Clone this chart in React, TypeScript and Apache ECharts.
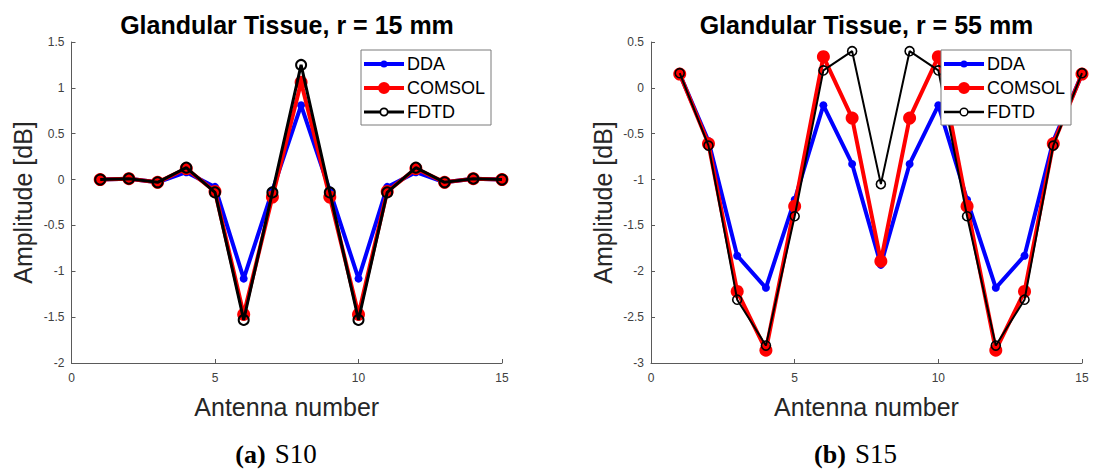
import React, { useEffect, useRef } from "react";
import * as echarts from "echarts";

const antennas = [1, 2, 3, 4, 5, 6, 7, 8, 9, 10, 11, 12, 13, 14, 15];
const seriesNames = ["DDA", "COMSOL", "FDTD"];

const s10DDA = [0, 0.01, -0.03, 0.08, -0.08, -1.08, -0.12, 0.81, -0.12, -1.08, -0.08, 0.08, -0.03, 0.01, 0];
const s10COMSOL = [0, 0.01, -0.03, 0.12, -0.13, -1.47, -0.19, 1.06, -0.19, -1.47, -0.13, 0.12, -0.03, 0.01, 0];
const s10FDTD = [0, 0.01, -0.03, 0.13, -0.14, -1.53, -0.14, 1.25, -0.14, -1.53, -0.14, 0.13, -0.03, 0.01, 0];

const s15DDA = [0.15, -0.58, -1.83, -2.18, -1.22, -0.19, -0.83, -1.93, -0.83, -0.19, -1.22, -2.18, -1.83, -0.58, 0.15];
const s15COMSOL = [0.15, -0.61, -2.22, -2.86, -1.29, 0.34, -0.33, -1.89, -0.33, 0.34, -1.29, -2.86, -2.22, -0.61, 0.15];
const s15FDTD = [0.16, -0.63, -2.31, -2.81, -1.4, 0.19, 0.4, -1.05, 0.4, 0.19, -1.4, -2.81, -2.31, -0.63, 0.16];

const titles = ["Glandular Tissue, r = 15 mm", "Glandular Tissue, r = 55 mm"];
const captionTags = ["(a)", "(b)"];
const captionNames = ["S10", "S15"];
const xName = "Antenna number";
const yName = "Amplitude [dB]";

const FONT = "'Liberation Sans', Arial, sans-serif";
const SERIF = "'Liberation Serif', 'Times New Roman', serif";
const AXIS_COLOR = "#5a5a5a";
const LABEL_COLOR = "#404040";

const pairs = (ys: number[]) => ys.map((y, i) => [antennas[i], y]);

// legend icon paths in a 40 x 14 box (corner specks pin the bounding box)
const BOX = "M0 0 L0.01 0 L0 0.01 Z M40 14 L39.99 14 L40 13.99 Z ";
const circle = (cx: number, cy: number, r: number, cw: boolean) =>
  `M${cx - r} ${cy} A${r} ${r} 0 1 ${cw ? 1 : 0} ${cx + r} ${cy} A${r} ${r} 0 1 ${cw ? 1 : 0} ${cx - r} ${cy} Z `;
const bar = (x0: number, x1: number, w: number) =>
  `M${x0} ${7 - w / 2} L${x1} ${7 - w / 2} L${x1} ${7 + w / 2} L${x0} ${7 + w / 2} Z `;
const filledIcon = (lw: number, r: number) => "path://" + BOX + bar(0, 40, lw) + circle(20, 7, r, true);
const hollowIcon = (lw: number, r: number, rin: number) =>
  "path://" + BOX + bar(0, 20 - rin, lw) + bar(20 + rin, 40, lw) + circle(20, 7, r, true) + circle(20, 7, rin, false);

export default function App() {
  const ref = useRef<HTMLDivElement>(null);
  useEffect(() => {
    if (!ref.current) return;
    const chart = echarts.init(ref.current, undefined, { renderer: "svg" });

    const grids = [
      { left: 71.5, top: 42, width: 430.5, height: 321 },
      { left: 651, top: 42, width: 431, height: 321 },
    ];
    const yRanges = [
      { min: -2, max: 1.5 },
      { min: -3, max: 0.5 },
    ];
    const data = [
      [s10DDA, s10COMSOL, s10FDTD],
      [s15DDA, s15COMSOL, s15FDTD],
    ];
    const fdtdWidth = [3, 2];
    const fdtdSymbol = [10, 9];
    const fdtdBorder = [2, 1.6];

    const xAxes = grids.map((_, i) => ({
      type: "value",
      gridIndex: i,
      min: 0,
      max: 15,
      interval: 5,
      name: xName,
      nameLocation: "middle",
      nameGap: 31,
      nameTextStyle: { fontFamily: FONT, fontSize: 25, color: "#262626" },
      axisLine: { show: true, onZero: false, lineStyle: { color: AXIS_COLOR, width: 1 } },
      axisTick: { show: true, inside: true, length: 4, lineStyle: { color: AXIS_COLOR } },
      axisLabel: { fontFamily: FONT, fontSize: 12, color: LABEL_COLOR, margin: 9 },
      splitLine: { show: false },
    }));
    const yAxes = grids.map((_, i) => ({
      type: "value",
      gridIndex: i,
      min: yRanges[i].min,
      max: yRanges[i].max,
      interval: 0.5,
      name: yName,
      nameLocation: "middle",
      nameGap: 36,
      nameTextStyle: { fontFamily: FONT, fontSize: 25, color: "#262626" },
      axisLine: { show: true, onZero: false, lineStyle: { color: AXIS_COLOR, width: 1 } },
      axisTick: { show: true, inside: true, length: 4, lineStyle: { color: AXIS_COLOR } },
      axisLabel: { fontFamily: FONT, fontSize: 12, color: LABEL_COLOR, margin: 7 },
      splitLine: { show: false },
    }));

    const series: any[] = [];
    grids.forEach((_, i) => {
      series.push({
        name: seriesNames[0],
        type: "line",
        xAxisIndex: i,
        yAxisIndex: i,
        data: pairs(data[i][0]),
        symbol: "circle",
        symbolSize: 8,
        color: "#0000ff",
        lineStyle: { width: 4, color: "#0000ff" },
        itemStyle: { color: "#0000ff" },
        z: 2,
      });
      series.push({
        name: seriesNames[1],
        type: "line",
        xAxisIndex: i,
        yAxisIndex: i,
        data: pairs(data[i][1]),
        symbol: "circle",
        symbolSize: 13,
        color: "#ff0000",
        lineStyle: { width: 4, color: "#ff0000" },
        itemStyle: { color: "#ff0000" },
        z: 3,
      });
      series.push({
        name: seriesNames[2],
        type: "line",
        xAxisIndex: i,
        yAxisIndex: i,
        data: pairs(data[i][2]),
        symbol: "circle",
        symbolSize: fdtdSymbol[i],
        color: "#000000",
        lineStyle: { width: fdtdWidth[i], color: "#000000" },
        itemStyle: { color: "rgba(0,0,0,0)", borderColor: "#000000", borderWidth: fdtdBorder[i] },
        z: 4,
      });
    });

    const legendColors = ["#0000ff", "#ff0000", "#000000"];
    const legends = [361, 941].map((left, li) => ({
      data: seriesNames.map((n, k) => ({
        name: n,
        icon:
          k === 0
            ? filledIcon(4, 3.5)
            : k === 1
            ? filledIcon(4, 6)
            : hollowIcon(li === 0 ? 3 : 2.4, 4.6, li === 0 ? 2.8 : 3.1),
        itemStyle: { color: legendColors[k], borderWidth: 0, borderColor: "rgba(0,0,0,0)" },
      })),
      orient: "vertical",
      left,
      top: 50,
      itemWidth: 40,
      itemHeight: 14,
      itemGap: 6,
      padding: [5, 6, 4, 3],
      backgroundColor: "#ffffff",
      borderColor: "#7a7a7a",
      borderWidth: 1,
      borderRadius: 0,
      selectedMode: false,
      symbolKeepAspect: false,
      textStyle: { fontFamily: FONT, fontSize: 18, color: "#000000", padding: [0, 0, 0, -2] },
      z: 10,
    }));

    const graphic: any[] = [];
    const titleX = [287, 866.5];
    const captionX = [276, 855.5];
    titles.forEach((t, i) => {
      graphic.push({
        type: "text",
        x: titleX[i],
        y: 25,
        style: {
          text: t,
          font: `bold 25px ${FONT}`,
          fill: "#000000",
          align: "center",
          verticalAlign: "middle",
        },
      });
      graphic.push({
        type: "text",
        x: captionX[i],
        y: 454,
        style: {
          text: `{b|${captionTags[i]}}{r|${captionNames[i]}}`,
          align: "center",
          verticalAlign: "middle",
          rich: {
            b: { fontFamily: SERIF, fontSize: 26, fontWeight: "bold", fill: "#000000", padding: [0, 9, 0, 0] },
            r: { fontFamily: SERIF, fontSize: 27, fontWeight: "normal", fill: "#000000" },
          },
        },
      });
    });

    chart.setOption({
      animation: false,
      backgroundColor: "#ffffff",
      grid: grids,
      xAxis: xAxes,
      yAxis: yAxes,
      legend: legends,
      series,
      graphic,
    });
    return () => chart.dispose();
  }, []);

  return (
    <div
      ref={ref}
      style={{ position: "fixed", left: 0, top: 0, width: 1094, height: 471, background: "#fff" }}
    />
  );
}
